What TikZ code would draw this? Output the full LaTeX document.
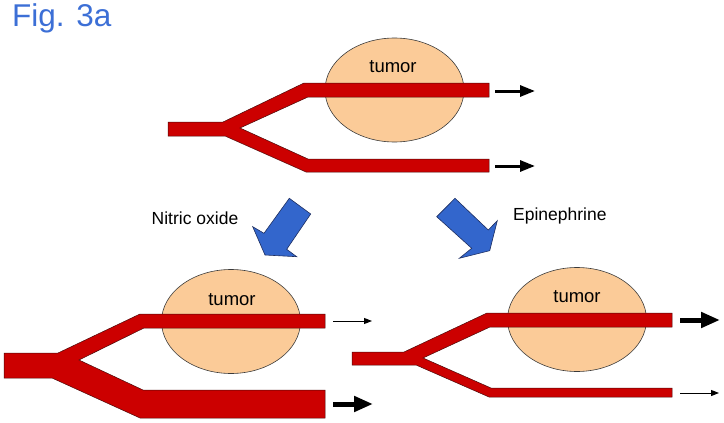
\documentclass[tikz,border=0pt]{standalone}
\usepackage{fontspec}
\setmainfont{Liberation Sans}
\usetikzlibrary{shapes.geometric,arrows.meta}
\definecolor{vessel}{HTML}{CC0000}
\definecolor{vesseledge}{HTML}{4A0A0A}
\definecolor{tumorfill}{HTML}{FBCB98}
\definecolor{tumoredge}{HTML}{3A3A3A}
\definecolor{bluefill}{HTML}{3366CC}
\definecolor{blueedge}{HTML}{1E2E60}
\definecolor{figblue}{HTML}{3C6FD6}
\tikzset{
  tumorshape/.style={ellipse, draw=tumoredge, fill=tumorfill, line width=0.6pt, minimum width=139pt, minimum height=104pt, inner sep=0pt},
  tumortext/.style={font=\fontsize{18.5}{20}\selectfont, inner sep=0pt},
  vesselshape/.style={fill=vessel, draw=vesseledge, line width=0.5pt, line join=miter},
  bluearrow/.style={fill=bluefill, draw=blueedge, line width=0.6pt, line join=miter},
  lbl/.style={font=\fontsize{17.5}{19}\selectfont, inner sep=0pt},
  flowthin/.style={draw=black, line width=1pt, -{Triangle[length=8pt,width=6pt]}},
  flowmid/.style={draw=black, line width=3pt, -{Triangle[length=15pt,width=11pt]}},
  flowthick/.style={draw=black, line width=5pt, -{Triangle[length=19pt,width=15pt]}},
}
\begin{document}
\begin{tikzpicture}[x=1pt,y=-1pt]
\useasboundingbox (0,0) rectangle (724,423);

% title
\node[font=\fontsize{31.5}{33}\selectfont, text=figblue, inner sep=0pt, anchor=base west] (title) at (12,27) {Fig. 3a};

% ---------- top diagram ----------
\node[tumorshape] (tumA) at (394.5,90) {};
\node[tumortext] (tumAtxt) at (393,67) {tumor};
\path[vesselshape] (168,122) -- (223,122) -- (304,83) -- (489,83) -- (489,97) -- (308,97)
  -- (240,128) -- (308,159) -- (489,159) -- (489,172) -- (306,172) -- (225,136) -- (168,136) -- cycle;
\coordinate (a1s) at (495,91);
\coordinate (a1e) at (535,91);
\coordinate (a2s) at (495,166);
\coordinate (a2e) at (535,166);
\draw[flowmid] (a1s) -- (a1e);
\draw[flowmid] (a2s) -- (a2e);

% ---------- blue arrows ----------
\path[bluearrow] (289.3,198.3) -- (310.7,214) -- (286.7,249.3) -- (296.7,256.7) -- (265,255)
  -- (252.7,226.7) -- (264,233.3) -- cycle;
\path[bluearrow] (455,198.3) -- (488.3,230) -- (497.3,220.7) -- (489.7,250.7) -- (459.3,258.3)
  -- (471.7,248.3) -- (436.7,216.7) -- cycle;
\node[lbl] (no) at (195,218) {Nitric oxide};
\node[lbl, anchor=west] (epi) at (513,216) {Epinephrine};

% ---------- bottom left ----------
\node[tumorshape] (tumB) at (231,321.5) {};
\node[tumortext] (tumBtxt) at (232,300) {tumor};
\path[vesselshape] (4,353) -- (58,353) -- (140,314) -- (325,314) -- (325,328) -- (144,328)
  -- (79,360) -- (143,390) -- (325,390) -- (325,418) -- (140,418) -- (52,378) -- (4,378) -- cycle;
\coordinate (b1s) at (333,321);
\coordinate (b1e) at (372,321);
\coordinate (b2s) at (333,404);
\coordinate (b2e) at (373,404);
\draw[flowthin] (b1s) -- (b1e);
\draw[flowthick] (b2s) -- (b2e);

% ---------- bottom right ----------
\node[tumorshape] (tumC) at (577,319.5) {};
\node[tumortext] (tumCtxt) at (577,297) {tumor};
\path[vesselshape] (352,352) -- (404,352) -- (487,313) -- (672,313) -- (672,327) -- (490,327)
  -- (423,358) -- (491,388) -- (672,388) -- (672,397) -- (489,397) -- (416,365) -- (352,365) -- cycle;
\coordinate (c1s) at (680,320);
\coordinate (c1e) at (720,320);
\coordinate (c2s) at (680,393);
\coordinate (c2e) at (719,393);
\draw[flowthick] (c1s) -- (c1e);
\draw[flowthin] (c2s) -- (c2e);
\end{tikzpicture}
\end{document}
